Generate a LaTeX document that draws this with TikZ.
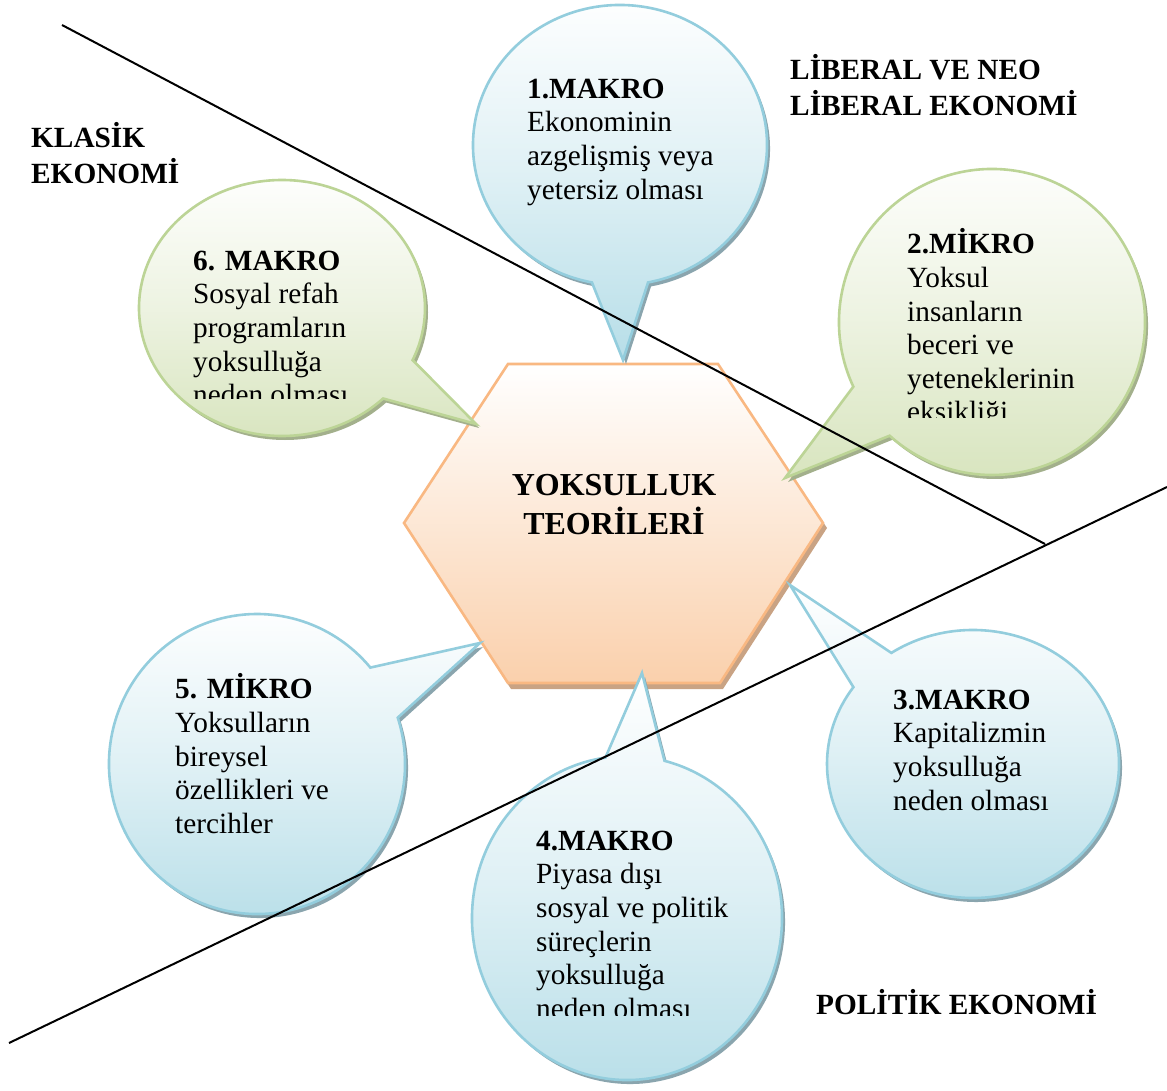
\documentclass[tikz,border=0pt]{standalone}
\usepackage{fontspec}
\setmainfont{Liberation Serif}
\definecolor{bluefill}{HTML}{B7DEE8}
\definecolor{blueline}{HTML}{93CDDD}
\definecolor{blueshadow}{HTML}{8AA5AE}
\definecolor{greenfill}{HTML}{D7E4BD}
\definecolor{greenline}{HTML}{BCD496}
\definecolor{greenshadow}{HTML}{A3B08C}
\definecolor{hexfill}{HTML}{FAD0AC}
\definecolor{hexline}{HTML}{F9B882}
\definecolor{hexshadow}{HTML}{C9A384}
% #1 colour prefix, #2 cx, #3 cy, #4 rx, #5 ry, #6 start angle, #7 end angle, #8 tip x, #9 tip y
\newcommand\bubbleshape[9]{%
  \begin{scope}[shift={(3,4)}]
    \fill[#1shadow] (#2,#3) ++(#6:#4 and #5) arc[start angle=#6,end angle=#7,x radius=#4,y radius=#5] -- (#8,#9) -- cycle;
  \end{scope}
  \shadedraw[top color=white, bottom color=#1fill, middle color=#1fill!45!white, draw=#1line, line width=2.6pt, line join=miter]
    (#2,#3) ++(#6:#4 and #5) arc[start angle=#6,end angle=#7,x radius=#4,y radius=#5] -- (#8,#9) -- cycle;
}
\tikzset{
  btxt/.style={anchor=north west, inner sep=0pt, align=left, font=\fontsize{29.3}{33.6}\selectfont},
  lbl/.style={anchor=north west, inner sep=0pt, align=left, font=\bfseries\fontsize{29.3}{33.6}\selectfont},
  divider/.style={draw=black, line width=2pt}
}
\begin{document}
\begin{tikzpicture}[x=1pt,y=-1pt]
\useasboundingbox[fill=white] (0,0) rectangle (1167,1091);
% central hexagon
\fill[hexshadow] (511,369) -- (721,369) -- (827,528) -- (723,689) -- (511,689) -- (407,528) -- cycle;
\shadedraw[top color=white, bottom color=hexfill, draw=hexline, line width=2.6pt]
  (508,364) -- (718,364) -- (823,523) -- (720,683) -- (508,683) -- (404,523) -- cycle;
\node[anchor=north, inner sep=0pt, align=center, font=\bfseries\fontsize{32}{37}\selectfont] (center) at (614,469) {\strut YOKSULLUK\\TEOR\.{I}LER\.{I}};
% callouts
\bubbleshape{blue}{620}{145}{147}{140}{101}{439}{623}{360}
\bubbleshape{green}{992}{322}{153}{153}{155}{492}{785}{478}
\bubbleshape{green}{282}{308}{143}{128}{45}{384}{476}{424}
\bubbleshape{blue}{257}{764}{148}{150}{-18}{320}{480}{643}
\bubbleshape{blue}{973}{764}{146}{134}{236}{575}{790}{585}
\bubbleshape{blue}{627}{918}{155}{162}{284}{622}{642}{673}
% callout texts
\node[btxt] (t1) at (527,74.5) {\strut\textbf{1.MAKRO}\\Ekonominin\\azgelişmiş veya\\yetersiz olması};
\begin{scope}
\clip (880,200) rectangle (1120,417);
\node[btxt] (t2) at (907,228.5) {\strut\textbf{2.MİKRO}\\Yoksul\\insanların\\beceri ve\\yeteneklerinin\\eksikliği};
\end{scope}
\begin{scope}
\clip (170,220) rectangle (420,398);
\node[btxt] (t6) at (193,246.5) {\strut\textbf{6. MAKRO}\\Sosyal refah\\programların\\yoksulluğa\\neden olması};
\end{scope}
\node[btxt] (t5) at (175,673.5) {\strut\textbf{5. MİKRO}\\Yoksulların\\bireysel\\özellikleri ve\\tercihler};
\node[btxt] (t3) at (893,685.5) {\strut\textbf{3.MAKRO}\\Kapitalizmin\\yoksulluğa\\neden olması};
\begin{scope}
\clip (500,800) rectangle (780,1015);
\node[btxt] (t4) at (536,826.5) {\strut\textbf{4.MAKRO}\\Piyasa dışı\\sosyal ve politik\\süreçlerin\\yoksulluğa\\neden olması};
\end{scope}
% region labels
\node[lbl] (klasik) at (31,122.5) {\strut KLASİK\\EKONOMİ};
\node[lbl] (liberal) at (790,54.5) {\strut LİBERAL VE NEO\\LİBERAL EKONOMİ};
\node[lbl] (politik) at (816,989.5) {\strut POLİTİK EKONOMİ};
% dividing lines
\coordinate (l1a) at (62,25);
\coordinate (l1b) at (1045,544);
\coordinate (l2a) at (9,1043);
\coordinate (l2b) at (1167,487);
\draw[divider] (l1a) -- (l1b);
\draw[divider] (l2a) -- (l2b);
\end{tikzpicture}
\end{document}
